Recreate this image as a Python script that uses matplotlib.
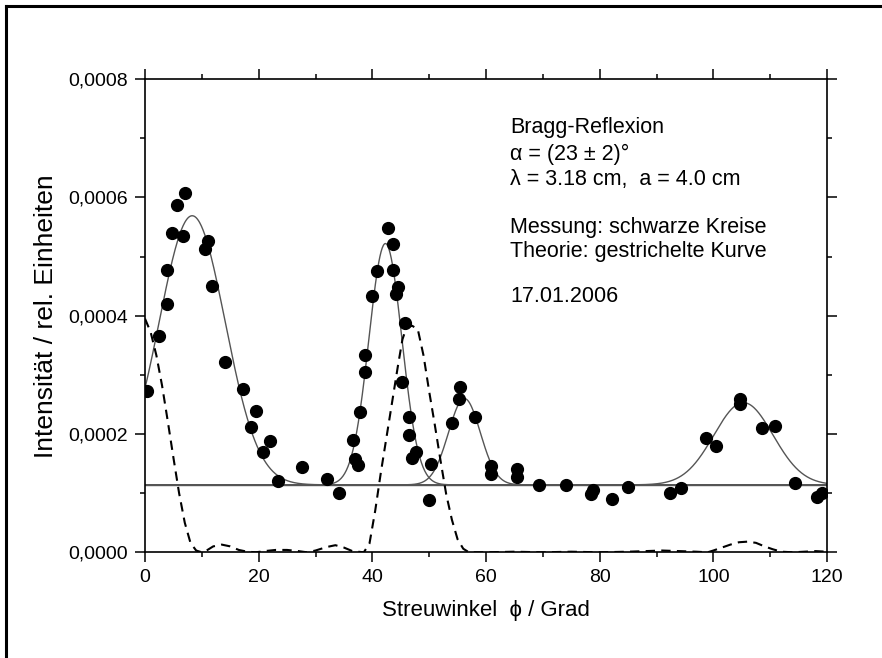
import numpy as np
import matplotlib
matplotlib.use("Agg")
import matplotlib.pyplot as plt
from matplotlib.ticker import MultipleLocator, FuncFormatter
from matplotlib.lines import Line2D

plt.rcParams['font.family'] = ['Liberation Sans', 'DejaVu Sans']

# Messung (schwarze Kreise)
meas_x = [0.4, 2.5, 3.8, 3.9, 4.8, 5.6, 6.6, 7.0, 10.6, 11.0, 11.8, 14.1, 17.2, 18.6,
          19.5, 20.8, 22.0, 23.4, 27.7, 32.0, 34.1, 36.6, 36.9, 37.4, 37.9, 38.7,
          38.7, 39.9, 40.8, 42.8, 43.6, 43.6, 44.1, 44.5, 45.3, 45.7, 46.5, 46.5,
          46.9, 47.7, 50.0, 50.3, 54.1, 55.2, 55.5, 58.1, 60.8, 60.8, 65.4, 65.4,
          69.3, 74.1, 78.4, 78.8, 82.1, 85.0, 92.3, 94.3, 98.7, 100.4, 104.7, 104.7,
          108.6, 110.8, 114.3, 118.3, 119.2]
meas_y = [0.000272, 0.000366, 0.000419, 0.000477, 0.000539, 0.000587, 0.000535, 0.000607,
          0.000512, 0.000527, 0.000451, 0.000322, 0.000276, 0.000212, 0.000239, 0.000169,
          0.000189, 0.000121, 0.000145, 0.000124, 0.000100, 0.000190, 0.000158, 0.000148,
          0.000238, 0.000333, 0.000304, 0.000433, 0.000475, 0.000549, 0.000521, 0.000477,
          0.000437, 0.000448, 0.000288, 0.000388, 0.000229, 0.000198, 0.000159, 0.000169,
          0.000088, 0.000149, 0.000218, 0.000259, 0.000279, 0.000229, 0.000146, 0.000132,
          0.000141, 0.000128, 0.000113, 0.000113, 0.000099, 0.000105, 0.000090, 0.000110,
          0.000100, 0.000109, 0.000193, 0.000179, 0.000260, 0.000251, 0.000210, 0.000214,
          0.000118, 0.000094, 0.000101]

# Gauss-Anpassung: Untergrund + vier Peaks
baseline = 0.000114
peak_center = [8.3, 42.3, 56.2, 105.3]
peak_height = [0.000455, 0.000408, 0.000146, 0.000139]
peak_sigma = [5.8, 2.9, 2.8, 5.2]

# Theorie (gestrichelte Kurve)
theo_x = [0, 1, 2, 3, 4, 5, 6, 7, 8, 9, 10, 11, 12, 13.5, 15, 16.5, 18, 19.5, 21, 23,
          25, 27, 28.5, 30, 32, 33.5, 35, 36.5, 38.5, 39.5, 40.5, 41.5, 42.5, 43.5,
          44.5, 45.3, 46, 47, 48, 49, 50, 51, 52, 53, 54, 55, 56, 57, 60, 65, 70, 75,
          80, 85, 88, 91, 94, 97, 99, 100, 101.5, 103, 104.5, 106, 107.5, 109, 110.5,
          112, 114, 116, 118, 120]
theo_y = [0.000395, 0.000372, 0.000333, 0.000282, 0.000222, 0.000160, 0.000100, 0.000050,
          0.000016, 0.000003, 0.0, 0.000004, 0.000010, 0.000013, 0.000010, 0.000004,
          0.000001, 0.0, 0.000002, 0.000004, 0.000004, 0.000002, 0.0, 0.000003, 0.000009,
          0.000012, 0.000008, 0.000002, 0.0, 0.000015, 0.000070, 0.000135, 0.000195,
          0.000255, 0.000315, 0.000360, 0.000380, 0.000383, 0.000377, 0.000333, 0.000272,
          0.000215, 0.000155, 0.000098, 0.000055, 0.000022, 0.000006, 0.0, 0.0, 0.000001,
          0.0, 0.000001, 0.0, 0.000001, 0.000002, 0.000003, 0.000002, 0.000001, 0.0,
          0.000003, 0.000008, 0.000013, 0.000017, 0.000018, 0.000016, 0.000010, 0.000005,
          0.000001, 0.0, 0.000001, 0.000002, 0.000001]

info_lines = ["Bragg-Reflexion", "\u03b1 = (23 \u00b1 2)\u00b0", "\u03bb = 3.18 cm,  a = 4.0 cm",
              "Messung: schwarze Kreise", "Theorie: gestrichelte Kurve", "17.01.2006"]
info_ypix = [127, 154, 180, 228, 252, 297]

fig = plt.figure(figsize=(8.82, 6.58), dpi=100)
ax = fig.add_axes([145 / 882, 1 - 552.3 / 658, 682 / 882, 473.2 / 658])

xx = np.linspace(0, 120, 1200)
ax.plot([0, 120], [baseline, baseline], color='#555555', lw=1.0, zorder=2)
for c, h, s in zip(peak_center, peak_height, peak_sigma):
    ax.plot(xx, baseline + h * np.exp(-(xx - c) ** 2 / (2 * s ** 2)),
            color='#555555', lw=1.0, zorder=2)

ax.plot(theo_x, theo_y, color='black', lw=1.5, ls=(0, (4.5, 3)), zorder=3)
ax.plot(meas_x, meas_y, 'o', color='black', ms=8.5, zorder=4)

ax.set_xlim(0, 120)
ax.set_ylim(0, 0.0008)
ax.xaxis.set_major_locator(MultipleLocator(20))
ax.xaxis.set_minor_locator(MultipleLocator(10))
ax.yaxis.set_major_locator(MultipleLocator(0.0002))
ax.yaxis.set_minor_locator(MultipleLocator(0.0001))
ax.yaxis.set_major_formatter(FuncFormatter(lambda v, p: f"{v:.4f}".replace('.', ',')))
ax.tick_params(which='both', direction='out', top=True, right=True, width=1.1,
               labelsize=14, pad=5)
ax.tick_params(which='major', length=7)
ax.tick_params(which='minor', length=3.5)
for sp in ax.spines.values():
    sp.set_linewidth(1.2)

ax.set_xlabel("Streuwinkel  \u03d5 / Grad", fontsize=16, labelpad=10)
ax.set_ylabel("Intensit\u00e4t / rel. Einheiten", fontsize=19)
ax.yaxis.set_label_coords(-0.128, 0.5)

for txt, py in zip(info_lines, info_ypix):
    fig.text(510 / 882, 1 - py / 658, txt, fontsize=15.5, va='center', ha='left')

# Rahmen
fig.add_artist(Line2D([6 / 882, 6 / 882], [0, 1 - 6 / 658], color='black', lw=2.2))
fig.add_artist(Line2D([6 / 882, 1], [1 - 6 / 658, 1 - 6 / 658], color='black', lw=2.2))

plt.savefig("out.png", dpi=100)
